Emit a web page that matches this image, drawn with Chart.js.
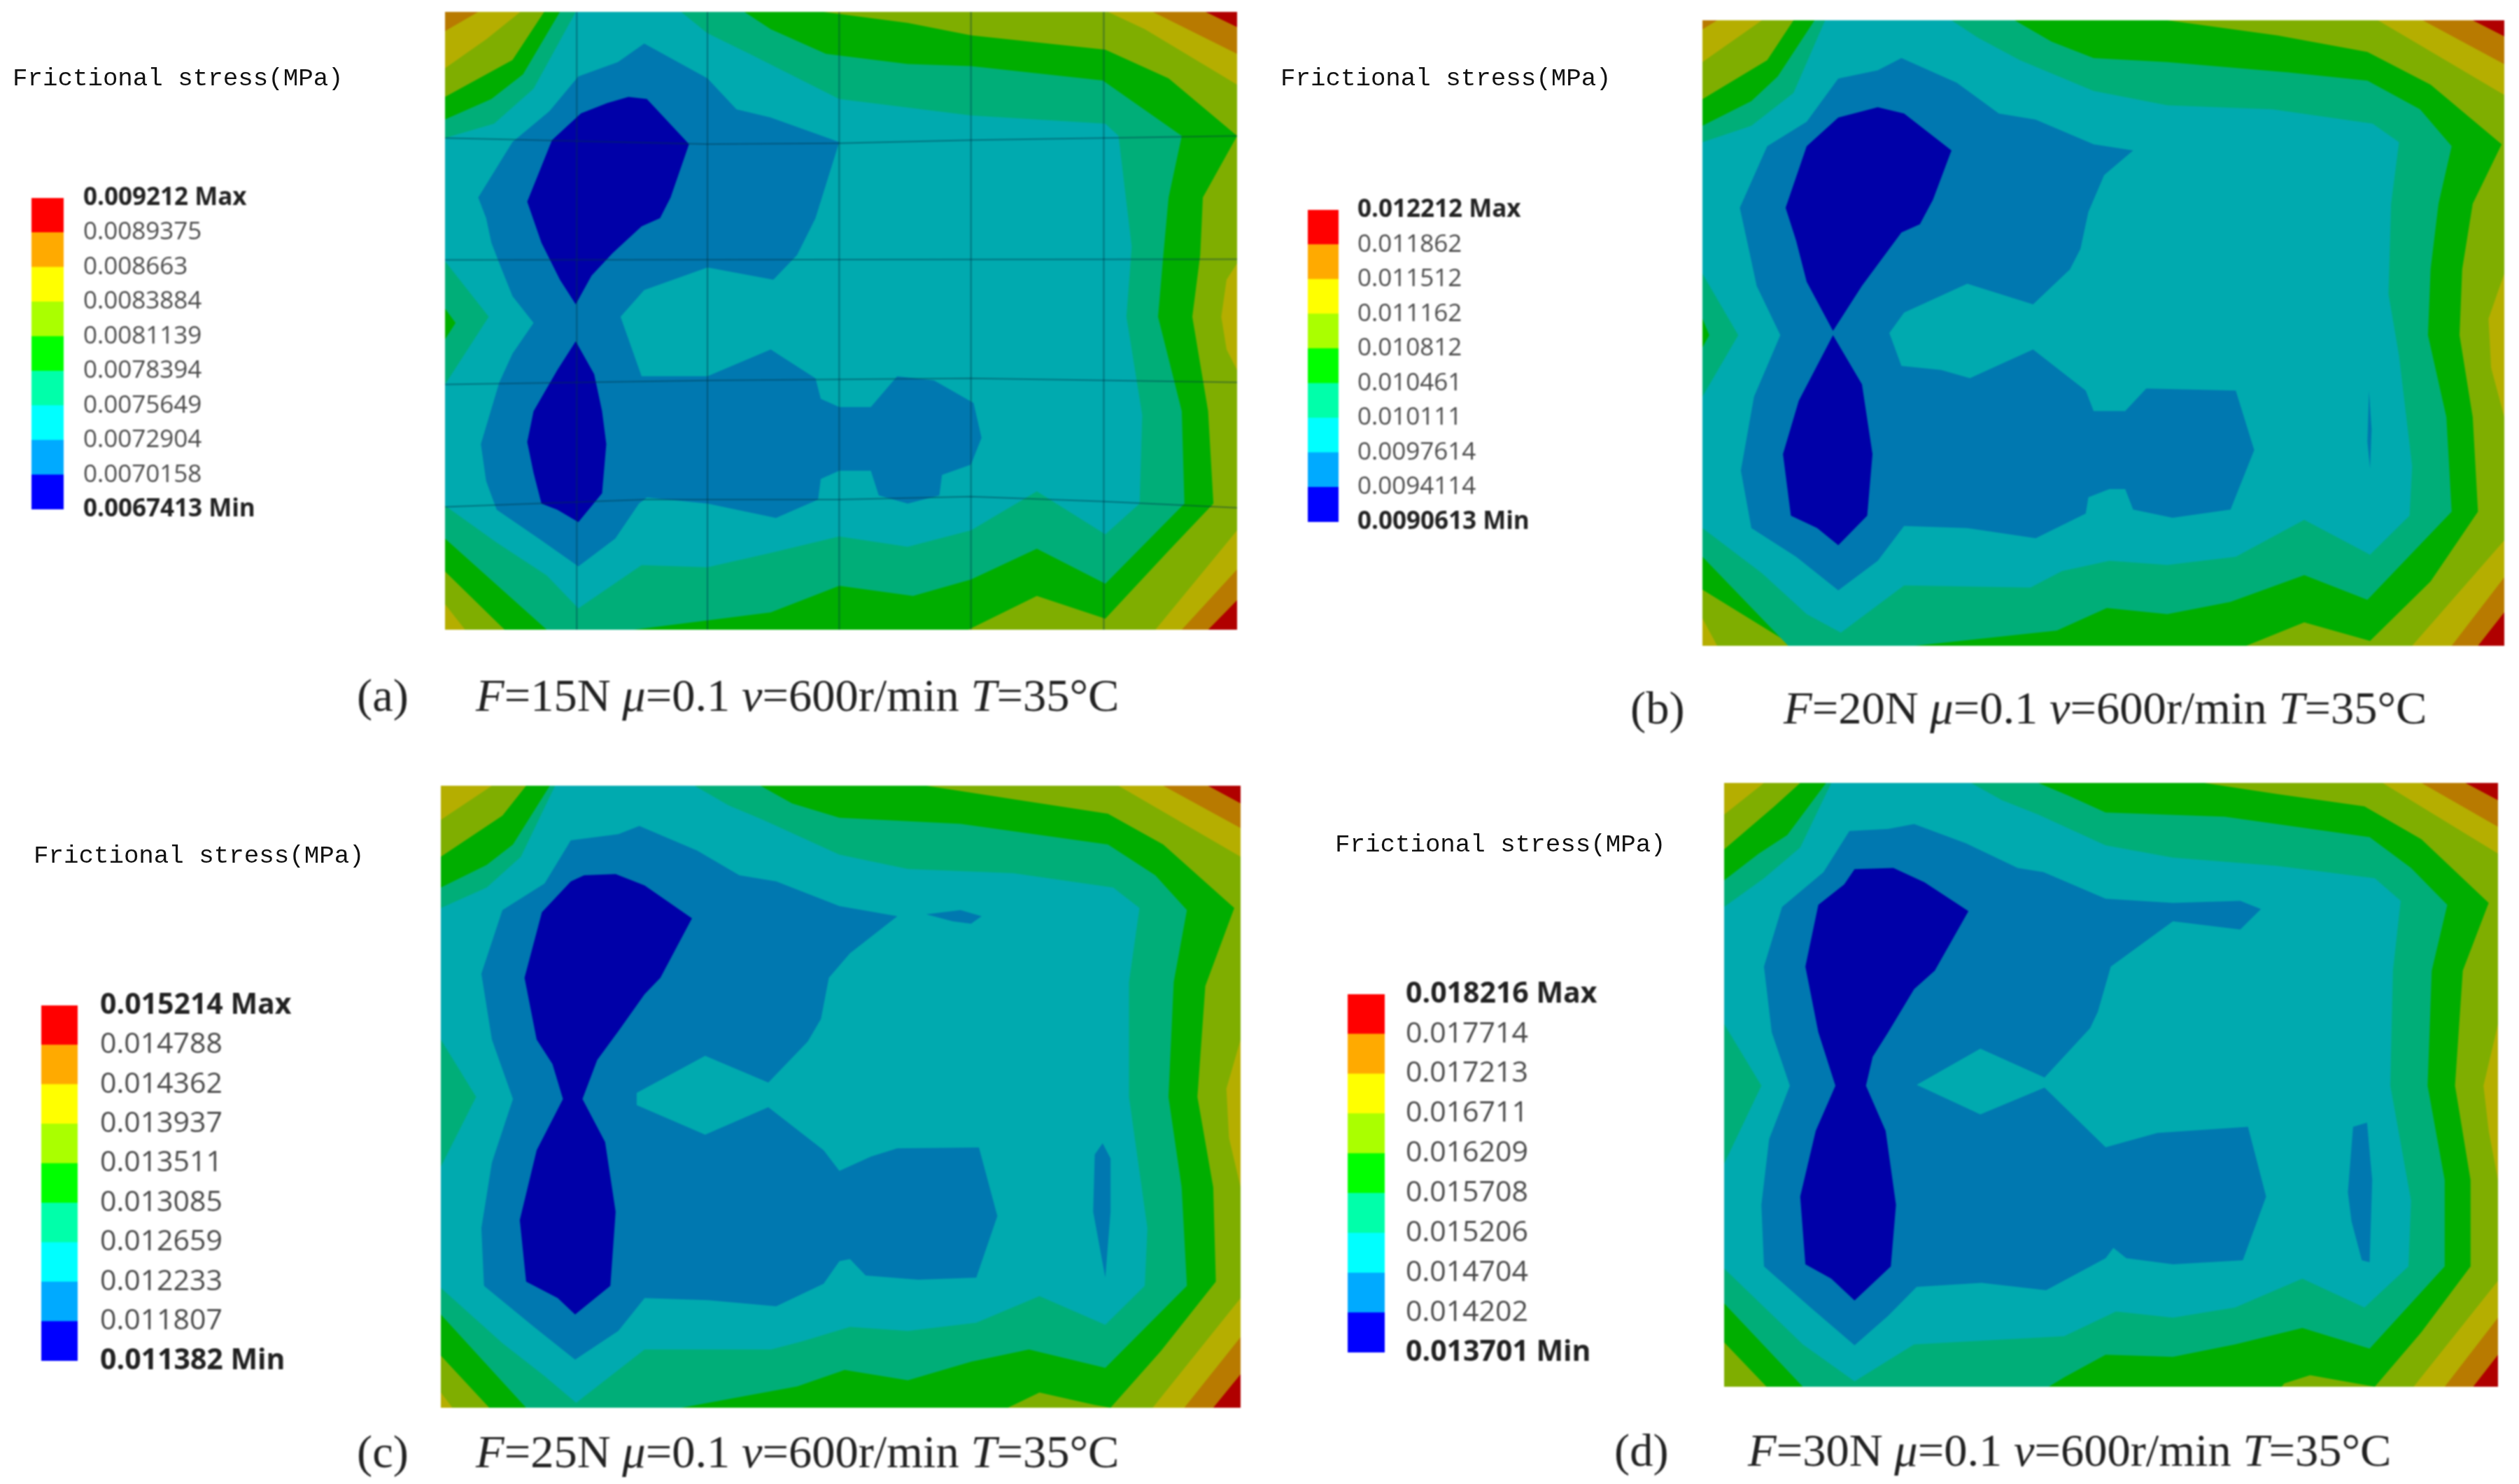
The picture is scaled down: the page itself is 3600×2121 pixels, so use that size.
<!DOCTYPE html>
<html>
<head>
<meta charset="utf-8">
<title>Frictional stress</title>
<script src="https://cdn.jsdelivr.net/npm/chart.js@4/dist/chart.umd.min.js"></script>
<style>
  html, body { margin: 0; background: #fff; }
  #page { position: relative; width: 3600px; height: 2121px; overflow: hidden; }
  canvas { position: absolute; filter: blur(1.2px); }
  .name { position: absolute; font: 35.8px "Liberation Mono", monospace; color: #111; white-space: pre; line-height: 1; filter: blur(.5px); }
  .cap { position: absolute; font: 66.5px "Liberation Serif", serif; color: #222; white-space: pre; line-height: 1; filter: blur(.8px); }
</style>
</head>
<body>
<div id="page"></div>
<script>
// legend values, top to bottom
const legendA = ['0.009212 Max', '0.0089375', '0.008663', '0.0083884', '0.0081139', '0.0078394', '0.0075649', '0.0072904', '0.0070158', '0.0067413 Min'];
const legendB = ['0.012212 Max', '0.011862', '0.011512', '0.011162', '0.010812', '0.010461', '0.010111', '0.0097614', '0.0094114', '0.0090613 Min'];
const legendC = ['0.015214 Max', '0.014788', '0.014362', '0.013937', '0.013511', '0.013085', '0.012659', '0.012233', '0.011807', '0.011382 Min'];
const legendD = ['0.018216 Max', '0.017714', '0.017213', '0.016711', '0.016209', '0.015708', '0.015206', '0.014704', '0.014202', '0.013701 Min'];

// legend colours low to high, and the darker lit colours of the same bands in the plots
const legendColors = ['#0000ff', '#00aaff', '#00ffff', '#00ffaa', '#00ff00', '#aaff00', '#ffff00', '#ffaa00', '#ff0000'];
const plotColors = ['#0000a8', '#0078b0', '#00aaaf', '#00ae78', '#00ae00', '#7fae00', '#b5ae00', '#b87a00', '#b00000'];

const forces = [15, 20, 25, 30];
const panelNames = ['a', 'b', 'c', 'd'];
const legendTitle = 'Frictional stress(MPa)';

// contour outlines in plot units. a1 is everything below red,
// a2 everything below orange and so on, down to the dark blue cores
const a1 = [[22,28],[1465,28],[1525,65],[1525,1460],[1470,1532],[22,1532]];
const a2 = [[85,28],[1365,28],[1525,130],[1525,1385],[1420,1532],[22,1532],[22,75]];
const a3 = [[165,28],[1280,28],[1350,70],[1525,205],[1525,640],[1505,680],[1495,770],[1505,850],[1525,900],[1525,1290],[1370,1532],[60,1532],[22,1470],[22,165],[100,95]];
const a4 = [[210,28],[150,145],[22,235],[22,1390],[135,1532],[1015,1532],[1145,1450],[1275,1505],[1395,1340],[1480,1225],[1470,1000],[1440,770],[1455,620],[1460,480],[1525,330],[1395,190],[1275,120],[1020,85],[900,55],[740,28]];
const a5 = [[240,28],[170,180],[110,240],[22,290],[22,750],[42,785],[22,825],[22,1310],[215,1532],[380,1532],[640,1490],[770,1425],[910,1450],[1020,1410],[1145,1335],[1275,1420],[1425,1225],[1420,1000],[1375,770],[1385,620],[1395,480],[1420,330],[1270,195],[1020,160],[900,155],[745,130],[640,70],[590,28]];
const a6 = [[270,28],[190,215],[115,300],[22,335],[22,635],[105,770],[22,935],[22,1230],[120,1320],[215,1400],[275,1480],[395,1375],[520,1380],[640,1345],[770,1305],[900,1330],[1020,1290],[1145,1195],[1275,1300],[1340,1225],[1345,1010],[1315,770],[1325,600],[1300,330],[1275,300],[1020,280],[770,240],[600,130],[520,80],[470,28]];
const a7 = [[400,105],[520,190],[575,265],[640,285],[770,345],[725,530],[690,620],[645,680],[520,650],[400,705],[355,770],[395,915],[520,915],[640,850],[725,920],[735,970],[770,990],[830,990],[880,915],[950,925],[1025,980],[1040,1065],[1020,1130],[965,1155],[960,1205],[900,1225],[845,1205],[830,1145],[770,1145],[735,1165],[730,1215],[650,1260],[520,1225],[405,1210],[390,1225],[345,1310],[275,1378],[200,1310],[120,1240],[100,1170],[90,1080],[125,930],[150,860],[190,785],[150,720],[125,640],[110,590],[100,530],[85,480],[150,345],[220,270],[275,185],[350,150]];
const a8top = [[370,235],[405,240],[485,350],[450,480],[430,530],[395,550],[340,615],[300,670],[270,740],[240,680],[205,590],[178,490],[225,340],[280,275],[330,250]];
const a8low = [[270,830],[305,910],[320,1000],[328,1080],[320,1200],[275,1270],[235,1240],[205,1225],[190,1150],[178,1075],[190,1000],[235,900]];

const b1 = [[17,33],[1480,33],[1540,72],[1540,1475],[1490,1557],[17,1557]];
const b2 = [[45,33],[1385,33],[1540,140],[1540,1390],[1440,1557],[17,1557],[17,55]];
const b3 = [[130,33],[1300,33],[1540,215],[1540,650],[1510,760],[1515,880],[1540,1000],[1540,1300],[1365,1557],[45,1557],[17,1490],[17,135]];
const b4 = [[190,33],[140,130],[17,225],[17,1420],[190,1557],[1050,1557],[1160,1500],[1285,1545],[1400,1400],[1490,1230],[1480,1000],[1455,800],[1460,640],[1480,480],[1535,335],[1400,190],[1280,110],[1110,70],[900,33]];
const b5 = [[230,33],[160,170],[110,230],[17,290],[17,760],[30,800],[17,830],[17,1340],[180,1557],[420,1557],[690,1520],[785,1465],[900,1480],[1020,1450],[1160,1385],[1280,1445],[1440,1230],[1430,1000],[1395,800],[1400,640],[1415,480],[1440,340],[1380,250],[1280,180],[1130,160],[900,135],[760,125],[680,85],[610,33]];
const b6 = [[250,33],[190,210],[110,290],[17,330],[17,650],[85,800],[17,950],[17,1270],[130,1380],[215,1480],[280,1525],[400,1410],[640,1415],[700,1375],[790,1350],[900,1360],[1030,1340],[1160,1250],[1285,1335],[1360,1240],[1365,1120],[1340,850],[1320,700],[1325,480],[1340,330],[1290,285],[1100,250],[900,240],[760,205],[620,130],[540,75],[490,33]];
const b7 = [[395,125],[500,185],[580,260],[650,275],[760,335],[835,350],[780,410],[750,500],[735,590],[715,640],[645,725],[520,675],[400,745],[372,795],[395,875],[470,885],[525,905],[645,835],[745,935],[760,985],[820,985],[860,930],[1030,935],[1065,1080],[1020,1225],[910,1245],[835,1225],[820,1175],[790,1175],[750,1195],[745,1235],[650,1295],[520,1270],[400,1265],[350,1350],[275,1422],[195,1340],[110,1270],[90,1130],[115,950],[165,800],[120,680],[105,590],[88,490],[140,340],[215,280],[275,175],[350,155]];
const b7spot = [[1283,935],[1288,1030],[1285,1125],[1280,1060]];
const b8top = [[350,245],[400,260],[490,350],[455,470],[430,530],[395,550],[320,680],[265,790],[215,670],[195,570],[175,490],[215,340],[275,270]];
const b8low = [[265,800],[320,920],[340,1090],[330,1240],[275,1312],[235,1270],[185,1240],[170,1090],[200,960]];

const c1 = [[13,22],[1470,22],[1532,65],[1532,1455],[1480,1537],[13,1537]];
const c2 = [[13,22],[1385,22],[1532,125],[1532,1365],[1425,1537],[13,1537]];
const c3 = [[110,22],[1300,22],[1532,195],[1532,640],[1505,760],[1510,880],[1532,1000],[1532,1270],[1365,1537],[35,1537],[13,1500],[13,105]];
const c4 = [[175,22],[130,95],[13,195],[13,1410],[105,1537],[1090,1537],[1150,1500],[1255,1530],[1285,1537],[1380,1400],[1485,1230],[1480,1000],[1450,780],[1465,510],[1520,320],[1385,165],[1280,90],[1100,55],[935,22]];
const c5 = [[220,22],[150,165],[100,215],[13,270],[13,1310],[175,1537],[470,1537],[690,1485],[780,1445],[900,1470],[1020,1425],[1130,1395],[1275,1440],[1430,1240],[1420,1000],[1395,780],[1405,500],[1430,325],[1370,240],[1280,165],[1000,115],[770,100],[680,65],[620,22]];
const c6 = [[230,22],[165,195],[100,270],[13,320],[13,640],[80,780],[13,950],[13,1245],[130,1380],[210,1460],[270,1525],[400,1395],[640,1395],[700,1375],[790,1340],[900,1350],[1030,1330],[1150,1265],[1275,1335],[1350,1240],[1355,1100],[1320,780],[1320,500],[1340,320],[1290,270],[1100,235],[900,225],[770,190],[625,105],[560,70],[495,22]];
const c7 = [[390,120],[500,180],[580,240],[650,255],[770,315],[880,340],[790,430],[750,490],[735,590],[710,645],[635,745],[515,680],[385,770],[385,800],[515,872],[635,805],[740,910],[770,960],[830,925],[880,905],[1035,903],[1070,1070],[1030,1220],[920,1225],[820,1215],[790,1175],[770,1180],[740,1235],[650,1290],[520,1275],[400,1270],[350,1350],[268,1420],[190,1340],[95,1240],[90,1100],[110,940],[150,785],[110,640],[90,480],[130,325],[210,260],[260,155],[350,140]];
const c7spot1 = [[935,335],[1000,325],[1040,340],[1020,358],[985,352]];
const c7spot2 = [[1270,893],[1285,930],[1285,1060],[1275,1220],[1252,1060],[1255,920]];
const c8 = [[285,240],[345,237],[400,265],[490,345],[430,490],[400,530],[350,620],[310,690],[282,785],[325,890],[345,1060],[335,1240],[268,1310],[235,1270],[175,1230],[163,1080],[195,910],[245,785],[225,700],[195,640],[172,490],[205,330],[260,255]];

const d1 = [[33,33],[1465,33],[1528,75],[1528,1425],[1480,1503],[33,1503]];
const d2 = [[33,33],[1380,33],[1528,140],[1528,1335],[1425,1503],[33,1503]];
const d3 = [[110,33],[1305,33],[1528,205],[1528,620],[1500,770],[1510,880],[1528,1000],[1528,1245],[1365,1503],[33,1503],[33,110]];
const d4 = [[180,33],[130,90],[33,195],[33,1395],[115,1503],[1110,1503],[1115,1495],[1165,1475],[1290,1503],[1380,1370],[1475,1210],[1475,1000],[1445,770],[1460,490],[1510,325],[1380,170],[1270,90],[1100,60],[960,33]];
const d5 = [[230,33],[155,160],[100,205],[33,270],[33,1300],[185,1503],[660,1503],[690,1480],[770,1425],[900,1430],[1020,1400],[1150,1360],[1280,1410],[1425,1210],[1425,1000],[1392,770],[1400,490],[1430,330],[1360,240],[1280,165],[1000,115],[770,105],[700,65],[640,33]];
const d6 = [[240,33],[180,190],[110,265],[33,335],[33,620],[105,770],[33,960],[33,1215],[185,1400],[285,1490],[400,1400],[690,1380],[790,1320],[900,1335],[1020,1310],[1150,1240],[1270,1310],[1355,1210],[1360,1050],[1320,770],[1325,490],[1340,320],[1290,265],[1100,235],[900,215],[770,185],[640,110],[570,75],[510,33]];
const d7 = [[400,133],[500,180],[600,240],[650,250],[770,315],[900,325],[1030,320],[1070,340],[1030,390],[900,370],[780,480],[755,590],[740,630],[652,750],[528,680],[405,768],[528,840],[652,775],[770,920],[870,885],[1045,870],[1080,1040],[1035,1195],[900,1205],[810,1190],[785,1165],[770,1190],[655,1268],[530,1250],[405,1260],[350,1330],[285,1402],[200,1310],[110,1210],[105,1060],[120,900],[160,770],[125,640],[110,480],[145,335],[225,250],[275,150],[350,145]];
const d7spot = [[1275,860],[1285,1000],[1280,1200],[1265,1195],[1245,1100],[1238,1030],[1248,870]];
const d8 = [[285,243],[360,240],[420,275],[505,345],[440,490],[400,535],[350,640],[320,700],[307,770],[345,880],[365,1060],[355,1210],[285,1293],[240,1240],[190,1205],[180,1040],[210,880],[248,770],[215,640],[190,480],[215,330],[265,280]];

// mesh lines that show only on panel a
const meshX = [272, 520, 770, 1020, 1272];
const meshRow1 = [[22,335],[520,350],[770,348],[1020,340],[1525,330]];
const meshRow2 = [[22,632],[1525,630]];
const meshRow3 = [[22,935],[520,925],[1020,920],[1525,930]];
const meshRow4 = [[22,1233],[400,1215],[770,1215],[1020,1208],[1272,1220],[1525,1235]];

const toPts = list => list.map(p => ({ x: p[0], y: p[1] }));

// range is the plot units at the frame edges, box the frame on the page
function contourChart(box, range, shapes, meshLines) {
  const c = document.createElement('canvas');
  c.width = box.w; c.height = box.h;
  c.style.left = box.x + 'px'; c.style.top = box.y + 'px';
  document.getElementById('page').appendChild(c);

  const frame = [[range.x0, range.y0], [range.x1, range.y0], [range.x1, range.y1], [range.x0, range.y1]];
  const all = [[frame, 8]].concat(shapes);
  const datasets = all.map((s, i) => ({
    data: toPts(s[0]),
    showLine: true,
    fill: 'shape',
    backgroundColor: plotColors[s[1]],
    borderWidth: 0,
    pointRadius: 0,
    order: -i
  }));
  (meshLines || []).forEach((l, i) => datasets.push({
    data: toPts(l),
    showLine: true,
    fill: false,
    borderColor: 'rgba(0,50,70,.45)',
    borderWidth: 2,
    pointRadius: 0,
    order: -100 - i
  }));

  new Chart(c, {
    type: 'scatter',
    data: { datasets: datasets },
    options: {
      responsive: false,
      animation: false,
      events: [],
      plugins: { legend: { display: false }, tooltip: { enabled: false } },
      layout: { padding: 0 },
      scales: {
        x: { display: false, min: range.x0, max: range.x1 },
        y: { display: false, reverse: true, min: range.y0, max: range.y1 }
      }
    }
  });
}

function legendChart(box, labels, fontSize, gap) {
  const pad = 80, labelW = 420;
  const c = document.createElement('canvas');
  c.width = box.w + labelW; c.height = box.h + pad * 2;
  c.style.left = box.x + 'px'; c.style.top = (box.y - pad) + 'px';
  document.getElementById('page').appendChild(c);

  const vals = labels.map(s => parseFloat(s));
  const low = vals.slice().reverse();
  const datasets = legendColors.map((col, i) => ({
    data: [[low[i], low[i + 1]]],
    backgroundColor: col,
    borderWidth: 0,
    grouped: false,
    barPercentage: 1,
    categoryPercentage: 1
  }));

  new Chart(c, {
    type: 'bar',
    data: { labels: [''], datasets: datasets },
    options: {
      responsive: false,
      animation: false,
      events: [],
      plugins: { legend: { display: false }, tooltip: { enabled: false } },
      layout: { padding: { top: pad, bottom: pad, left: 0, right: 0 } },
      scales: {
        x: { display: false },
        y: {
          position: 'right',
          min: low[0],
          max: low[9],
          grid: { display: false, drawTicks: false },
          border: { display: false },
          afterFit: s => { s.width = labelW; },
          afterBuildTicks: s => { s.ticks = low.map(v => ({ value: v })); },
          ticks: {
            autoSkip: false,
            padding: gap,
            color: ctx => (ctx.index === 0 || ctx.index === 9) ? '#222' : '#4a4a4a',
            font: ctx => ({
              family: '"Open Sans"',
              size: fontSize,
              weight: (ctx.index === 0 || ctx.index === 9) ? 'bold' : 'normal'
            }),
            callback: v => labels[vals.indexOf(v)]
          }
        }
      }
    }
  });
}

function addText(cls, x, cy, html) {
  const d = document.createElement('div');
  d.className = cls;
  d.style.left = x + 'px';
  d.style.top = cy + 'px';
  d.style.transform = 'translateY(-50%)';
  d.innerHTML = html;
  document.getElementById('page').appendChild(d);
}

contourChart({ x: 636, y: 17, w: 1132, h: 883 }, { x0: 22, x1: 1525, y0: 28, y1: 1532 },
  [[a1,7],[a2,6],[a3,5],[a4,4],[a5,3],[a6,2],[a7,1],[a8top,0],[a8low,0]],
  meshX.map(x => [[x,28],[x,1532]]).concat([meshRow1, meshRow2, meshRow3, meshRow4]));
contourChart({ x: 2433, y: 29, w: 1146, h: 894 }, { x0: 17, x1: 1540, y0: 33, y1: 1557 },
  [[b1,7],[b2,6],[b3,5],[b4,4],[b5,3],[b6,2],[b7,1],[b7spot,1],[b8top,0],[b8low,0]]);
contourChart({ x: 630, y: 1123, w: 1143, h: 889 }, { x0: 13, x1: 1532, y0: 22, y1: 1537 },
  [[c1,7],[c2,6],[c3,5],[c4,4],[c5,3],[c6,2],[c7,1],[c7spot1,1],[c7spot2,1],[c8,0]]);
contourChart({ x: 2464, y: 1119, w: 1106, h: 863 }, { x0: 33, x1: 1528, y0: 33, y1: 1503 },
  [[d1,7],[d2,6],[d3,5],[d4,4],[d5,3],[d6,2],[d7,1],[d7spot,1],[d8,0]]);

legendChart({ x: 45, y: 283, w: 46, h: 445 }, legendA, 35, 28);
legendChart({ x: 1869, y: 300, w: 44, h: 446 }, legendB, 35, 27);
legendChart({ x: 59, y: 1437, w: 52, h: 508 }, legendC, 41, 32);
legendChart({ x: 1926, y: 1421, w: 53, h: 512 }, legendD, 41, 30);

addText('name', 18, 113, legendTitle);
addText('name', 1830, 113, legendTitle);
addText('name', 48, 1224, legendTitle);
addText('name', 1908, 1208, legendTitle);

const capX = [680, 2549, 680, 2498];
const capY = [994, 1012, 2075, 2073];
const tagX = [510, 2330, 510, 2307];
forces.forEach((f, i) => {
  addText('cap', tagX[i], capY[i], '(' + panelNames[i] + ')');
  addText('cap', capX[i], capY[i], '<i>F</i>=' + f + 'N <i>\u03bc</i>=0.1 <i>v</i>=600r/min <i>T</i>=35\u00b0C');
});
</script>
</body>
</html>
